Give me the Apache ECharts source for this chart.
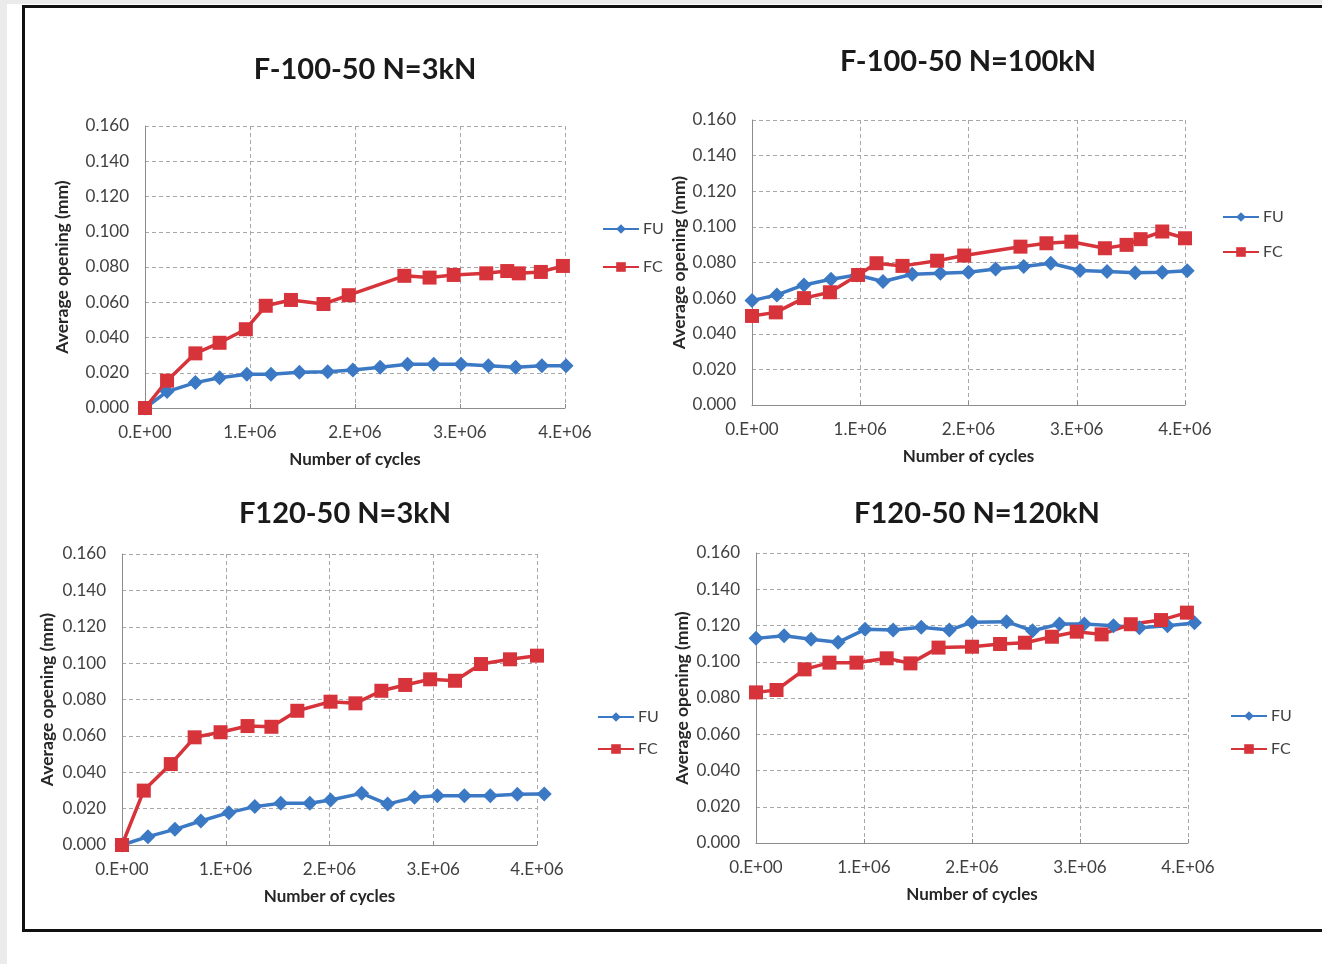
<!DOCTYPE html>
<html>
<head>
<meta charset="utf-8">
<script src="https://cdn.jsdelivr.net/npm/echarts@6/dist/echarts.min.js"></script>
<style>
html,body{margin:0;padding:0;background:#fff;}
#chart{width:1322px;height:964px;}
</style>
</head>
<body>
<div id="chart"></div>
<script>
// ---- Data (cycles in millions, opening in mm) ----
const titles = ['F-100-50 N=3kN', 'F-100-50 N=100kN', 'F120-50 N=3kN', 'F120-50 N=120kN'];
const seriesNames = ['FU', 'FC'];
const xTickLabels = ['0.E+00', '1.E+06', '2.E+06', '3.E+06', '4.E+06'];
const yTickLabels = ['0.000', '0.020', '0.040', '0.060', '0.080', '0.100', '0.120', '0.140', '0.160'];
const xAxisName = 'Number of cycles';
const yAxisName = 'Average opening (mm)';

// Chart 1: F-100-50 N=3kN
const c1_fu_x = [0, 0.21, 0.48, 0.71, 0.97, 1.20, 1.47, 1.74, 1.98, 2.24, 2.50, 2.75, 3.01, 3.27, 3.53, 3.78, 4.01];
const c1_fu_y = [0, 0.0093, 0.0144, 0.0172, 0.0191, 0.0191, 0.0203, 0.0206, 0.0216, 0.0231, 0.0248, 0.0248, 0.0248, 0.0240, 0.0231, 0.0240, 0.0240];
const c1_fc_x = [0, 0.21, 0.48, 0.71, 0.96, 1.15, 1.39, 1.70, 1.94, 2.47, 2.71, 2.94, 3.25, 3.45, 3.56, 3.77, 3.98];
const c1_fc_y = [0, 0.0155, 0.0310, 0.0370, 0.0447, 0.0580, 0.0613, 0.0590, 0.0640, 0.0750, 0.0740, 0.0755, 0.0764, 0.0777, 0.0764, 0.0772, 0.0806];

// Chart 2: F-100-50 N=100kN
const c2_fu_x = [0, 0.23, 0.48, 0.73, 0.97, 1.21, 1.48, 1.74, 2.00, 2.25, 2.51, 2.76, 3.03, 3.28, 3.54, 3.79, 4.02];
const c2_fu_y = [0.0586, 0.0618, 0.0674, 0.0706, 0.0730, 0.0693, 0.0734, 0.0740, 0.0745, 0.0764, 0.0777, 0.0796, 0.0755, 0.0749, 0.0743, 0.0745, 0.0753];
const c2_fc_x = [0, 0.22, 0.48, 0.72, 0.98, 1.15, 1.39, 1.71, 1.96, 2.48, 2.72, 2.95, 3.26, 3.46, 3.59, 3.79, 4.00];
const c2_fc_y = [0.0500, 0.0520, 0.0600, 0.0633, 0.0730, 0.0796, 0.0781, 0.0810, 0.0839, 0.0889, 0.0908, 0.0917, 0.0880, 0.0899, 0.0931, 0.0974, 0.0936];

// Chart 3: F120-50 N=3kN
const c3_fu_x = [0, 0.25, 0.51, 0.76, 1.03, 1.28, 1.53, 1.81, 2.01, 2.31, 2.56, 2.82, 3.04, 3.30, 3.55, 3.81, 4.07];
const c3_fu_y = [0, 0.0046, 0.0086, 0.0132, 0.0178, 0.0211, 0.0229, 0.0229, 0.0247, 0.0284, 0.0225, 0.0262, 0.0271, 0.0271, 0.0271, 0.0279, 0.0280];
const c3_fc_x = [0, 0.21, 0.47, 0.70, 0.95, 1.21, 1.44, 1.69, 2.01, 2.25, 2.50, 2.73, 2.97, 3.21, 3.46, 3.74, 4.00];
const c3_fc_y = [0, 0.0299, 0.0445, 0.0592, 0.0620, 0.0654, 0.0650, 0.0738, 0.0788, 0.0779, 0.0848, 0.0880, 0.0911, 0.0903, 0.0995, 0.1021, 0.1041];

// Chart 4: F120-50 N=120kN
const c4_fu_x = [0, 0.26, 0.51, 0.76, 1.01, 1.27, 1.53, 1.79, 2.00, 2.32, 2.56, 2.81, 3.04, 3.31, 3.55, 3.81, 4.06];
const c4_fu_y = [0.1129, 0.1144, 0.1124, 0.1107, 0.1179, 0.1175, 0.1190, 0.1175, 0.1218, 0.1221, 0.1171, 0.1208, 0.1208, 0.1199, 0.1188, 0.1199, 0.1215];
const c4_fc_x = [0, 0.19, 0.45, 0.68, 0.93, 1.21, 1.43, 1.69, 2.00, 2.26, 2.49, 2.74, 2.97, 3.20, 3.47, 3.75, 3.99];
const c4_fc_y = [0.0831, 0.0844, 0.0958, 0.0995, 0.0995, 0.1019, 0.0991, 0.1078, 0.1083, 0.1098, 0.1105, 0.1138, 0.1166, 0.1151, 0.1207, 0.1230, 0.1271];

// ---- Layout / styles ----
const FONT = 'Lato, "Open Sans", sans-serif';
const BLUE = '#3b79c5';
const RED = '#d7333b';
const TXT = '#404040';

const panels = [
  { grid: {left: 145, top: 126, width: 420, height: 282}, title: {cx: 365, top: 55}, yGap: 74, legend: {left: 602, top: 221, gap: 22}, fu: [c1_fu_x, c1_fu_y], fc: [c1_fc_x, c1_fc_y] },
  { grid: {left: 752, top: 120, width: 433, height: 285}, title: {cx: 968, top: 47}, yGap: 63, legend: {left: 1222, top: 209, gap: 19}, fu: [c2_fu_x, c2_fu_y], fc: [c2_fc_x, c2_fc_y] },
  { grid: {left: 122, top: 554, width: 415, height: 291}, title: {cx: 345, top: 499}, yGap: 66, legend: {left: 597, top: 709, gap: 16}, fu: [c3_fu_x, c3_fu_y], fc: [c3_fc_x, c3_fc_y] },
  { grid: {left: 756, top: 553, width: 432, height: 290}, title: {cx: 977, top: 499}, yGap: 65, legend: {left: 1230, top: 708, gap: 17}, fu: [c4_fu_x, c4_fu_y], fc: [c4_fc_x, c4_fc_y] }
];

function pairs(xs, ys) { return xs.map((x, i) => [x * 1e6, ys[i]]); }

const option = {
  animation: false,
  backgroundColor: '#ffffff',
  textStyle: { fontFamily: FONT },
  title: [], grid: [], xAxis: [], yAxis: [], legend: [], series: [],
  graphic: [
    { type: 'rect', shape: {x: 0, y: 0, width: 7, height: 964}, style: {fill: '#ebebeb'}, silent: true, z: -10 },
    { type: 'rect', shape: {x: 0, y: 0, width: 1322, height: 4}, style: {fill: '#ebebeb'}, silent: true, z: -10 },
    { type: 'rect', shape: {x: 23.5, y: 6.5, width: 1340, height: 924}, style: {fill: null, stroke: '#111111', lineWidth: 3}, silent: true, z: -5 }
  ]
};

panels.forEach((p, i) => {
  option.title.push({
    text: titles[i], left: p.title.cx, top: p.title.top, textAlign: 'center', padding: 0,
    textStyle: { fontFamily: FONT, fontWeight: 'bold', fontSize: 29, color: '#1a1a1a' }
  });
  option.grid.push(Object.assign({ containLabel: false }, p.grid));
  option.xAxis.push({
    type: 'value', gridIndex: i, min: 0, max: 4e6, interval: 1e6,
    name: xAxisName, nameLocation: 'middle', nameGap: 43,
    nameTextStyle: { fontFamily: FONT, fontWeight: 'bold', fontSize: 17, color: '#262626' },
    axisLine: { show: true, lineStyle: { color: '#8c8c8c', width: 1 } },
    axisTick: { show: true, inside: true, length: 4, lineStyle: { color: '#8c8c8c' } },
    axisLabel: { margin: 16, fontFamily: FONT, fontSize: 17, color: TXT, formatter: v => xTickLabels[Math.round(v / 1e6)] },
    splitLine: { show: true, lineStyle: { color: '#a8a8a8', type: [4, 3], width: 1 } }
  });
  option.yAxis.push({
    type: 'value', gridIndex: i, min: 0, max: 0.16, interval: 0.02,
    name: yAxisName, nameLocation: 'middle', nameGap: p.yGap, nameRotate: 90,
    nameTextStyle: { fontFamily: FONT, fontWeight: 'bold', fontSize: 17.5, color: '#262626' },
    axisLine: { show: true, lineStyle: { color: '#8c8c8c', width: 1 } },
    axisTick: { show: false },
    axisLabel: { margin: 16, fontFamily: FONT, fontSize: 17, color: TXT, formatter: v => yTickLabels[Math.round(v / 0.02)] },
    splitLine: { show: true, lineStyle: { color: '#a8a8a8', type: [4, 3], width: 1 } }
  });
  option.legend.push({
    orient: 'vertical', left: p.legend.left, top: p.legend.top, itemGap: p.legend.gap,
    itemWidth: 36, itemHeight: 12, padding: 0, selectedMode: false,
    data: seriesNames,
    textStyle: { fontFamily: FONT, fontSize: 16, color: TXT, padding: [0, 0, 0, -1] }
  });
  option.series.push({
    name: seriesNames[0], type: 'line', xAxisIndex: i, yAxisIndex: i, clip: false,
    data: pairs(p.fu[0], p.fu[1]), symbol: 'diamond', symbolSize: 15,
    lineStyle: { color: BLUE, width: 3.5 }, itemStyle: { color: BLUE }
  });
  option.series.push({
    name: seriesNames[1], type: 'line', xAxisIndex: i, yAxisIndex: i, clip: false,
    data: pairs(p.fc[0], p.fc[1]), symbol: 'rect', symbolSize: 14,
    lineStyle: { color: RED, width: 3.5 }, itemStyle: { color: RED }
  });
});

const chart = echarts.init(document.getElementById('chart'), null, { renderer: 'canvas' });
chart.setOption(option);
</script>
</body>
</html>
